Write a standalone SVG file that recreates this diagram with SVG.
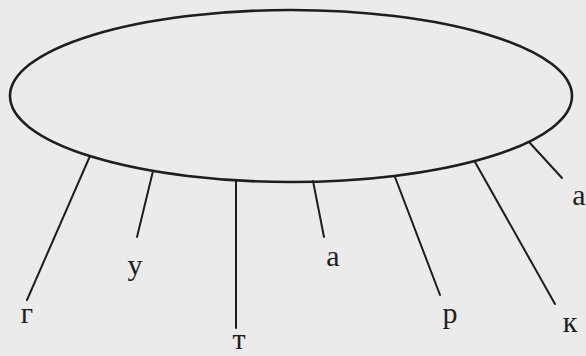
<svg xmlns="http://www.w3.org/2000/svg" width="586" height="356" viewBox="0 0 586 356">
<style>
.bg{fill:#ebebeb}
.ell{fill:none;stroke:#1e1e1e;stroke-width:2.6}
.ray{stroke:#1e1e1e;stroke-width:2;fill:none;stroke-linecap:round}
.lbl{font-family:"Liberation Serif","DejaVu Serif",serif;font-size:30px;fill:#1e1e1e;text-anchor:middle}
</style>
<rect class="bg" x="0" y="0" width="586" height="356"/>
<g id="ellipse">
<ellipse class="ell" cx="291" cy="96" rx="281" ry="86"/>
</g>
<g id="connectors">
<line class="ray" x1="90" y1="156" x2="27" y2="300"/>
<line class="ray" x1="153" y1="171" x2="137" y2="237"/>
<line class="ray" x1="236" y1="180" x2="236" y2="328"/>
<line class="ray" x1="313" y1="181" x2="324" y2="237"/>
<line class="ray" x1="395" y1="177" x2="440" y2="295"/>
<line class="ray" x1="475" y1="162" x2="555" y2="304"/>
<line class="ray" x1="529" y1="142" x2="562" y2="178"/>
</g>
<g id="label-g"><text class="lbl" x="27" y="323">г</text></g>
<g id="label-u"><text class="lbl" x="135" y="275">у</text></g>
<g id="label-t"><text class="lbl" x="239" y="349">т</text></g>
<g id="label-a1"><text class="lbl" x="333" y="266">а</text></g>
<g id="label-r"><text class="lbl" x="450" y="323">р</text></g>
<g id="label-k"><text class="lbl" x="570" y="332">к</text></g>
<g id="label-a2"><text class="lbl" x="579" y="205">а</text></g>
</svg>
